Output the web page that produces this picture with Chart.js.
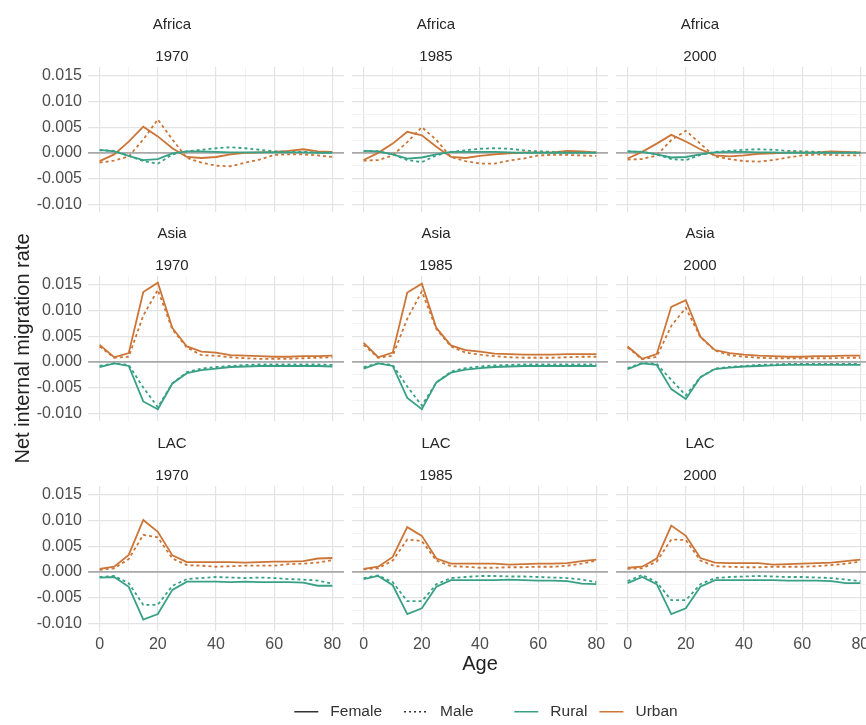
<!DOCTYPE html>
<html lang="en">
<head>
<meta charset="UTF-8">
<meta name="viewport" content="width=device-width, initial-scale=1.0">
<title>Net internal migration rate by age</title>
<script src="https://cdn.jsdelivr.net/npm/chart.js"></script>
<style>
    html, body {
      margin: 0;
      padding: 0;
      background: #fff;
    }
    #page {
      position: relative;
      width: 866px;
      height: 725px;
      overflow: hidden;
    }
    #page canvas {
      position: absolute;
    }
</style>
</head>
<body>
<div id="page"></div>

<script>
    // Facets and axes
    const regions = ['Africa', 'Asia', 'LAC'];
    const years = ['1970', '1985', '2000'];
    const ages = [0, 5, 10, 15, 20, 25, 30, 35, 40, 45, 50, 55, 60, 65, 70, 75, 80];
    const xMajor = [0, 20, 40, 60, 80];
    const xMinor = [10, 30, 50, 70];
    const yMajor = [-0.010, -0.005, 0, 0.005, 0.010, 0.015];
    const yMinor = [-0.0075, -0.0025, 0.0025, 0.0075, 0.0125];

    // Africa
    const afr70_urbF = [-0.0016, -0.0003, 0.0022, 0.0051, 0.0032, 0.0009, -0.0008, -0.0010, -0.0008, -0.0003, 0.0000, 0.0001, 0.0002, 0.0004, 0.0007, 0.0003, 0.0002];
    const afr70_urbM = [-0.0019, -0.0015, -0.0007, 0.0026, 0.0065, 0.0026, -0.0010, -0.0019, -0.0025, -0.0026, -0.0019, -0.0013, -0.0004, -0.0003, -0.0003, -0.0005, -0.0008];
    const afr70_rurF = [0.0006, 0.0003, -0.0006, -0.0014, -0.0012, -0.0001, 0.0003, 0.0003, 0.0002, 0.0001, 0.0001, 0.0001, 0.0001, 0.0001, 0.0001, 0.0000, 0.0000];
    const afr70_rurM = [0.0005, 0.0004, -0.0006, -0.0016, -0.0021, -0.0003, 0.0003, 0.0006, 0.0009, 0.0011, 0.0009, 0.0006, 0.0003, 0.0002, 0.0002, 0.0001, 0.0001];

    const afr85_urbF = [-0.0014, 0.0000, 0.0018, 0.0041, 0.0034, 0.0012, -0.0008, -0.0010, -0.0006, -0.0003, -0.0001, 0.0001, 0.0001, 0.0001, 0.0004, 0.0003, 0.0001];
    const afr85_urbM = [-0.0015, -0.0014, -0.0005, 0.0021, 0.0050, 0.0025, -0.0008, -0.0016, -0.0021, -0.0021, -0.0015, -0.0011, -0.0005, -0.0004, -0.0004, -0.0005, -0.0006];
    const afr85_rurF = [0.0004, 0.0003, -0.0003, -0.0011, -0.0009, -0.0003, 0.0002, 0.0002, 0.0002, 0.0002, 0.0001, 0.0000, 0.0000, 0.0000, 0.0000, 0.0000, 0.0000];
    const afr85_rurM = [0.0004, 0.0003, -0.0003, -0.0014, -0.0018, -0.0005, 0.0002, 0.0005, 0.0008, 0.0009, 0.0008, 0.0005, 0.0003, 0.0002, 0.0001, 0.0001, 0.0001];

    const afr00_urbF = [-0.0011, 0.0002, 0.0018, 0.0035, 0.0022, 0.0007, -0.0005, -0.0007, -0.0005, -0.0002, -0.0001, 0.0001, 0.0001, 0.0001, 0.0003, 0.0002, 0.0001];
    const afr00_urbM = [-0.0013, -0.0012, -0.0005, 0.0025, 0.0043, 0.0018, -0.0007, -0.0012, -0.0016, -0.0017, -0.0014, -0.0009, -0.0005, -0.0003, -0.0004, -0.0005, -0.0005];
    const afr00_rurF = [0.0003, 0.0002, -0.0003, -0.0009, -0.0008, -0.0003, 0.0001, 0.0002, 0.0002, 0.0001, 0.0001, 0.0000, 0.0000, 0.0000, 0.0000, 0.0000, 0.0000];
    const afr00_rurM = [0.0003, 0.0002, -0.0003, -0.0012, -0.0014, -0.0004, 0.0002, 0.0004, 0.0006, 0.0007, 0.0006, 0.0004, 0.0003, 0.0002, 0.0001, 0.0001, 0.0001];

    // Asia
    const asia70_urbF = [0.0033, 0.0009, 0.0017, 0.0136, 0.0154, 0.0066, 0.0030, 0.0020, 0.0018, 0.0013, 0.0012, 0.0011, 0.0010, 0.0010, 0.0011, 0.0011, 0.0012];
    const asia70_urbM = [0.0030, 0.0008, 0.0010, 0.0090, 0.0140, 0.0063, 0.0028, 0.0013, 0.0012, 0.0009, 0.0007, 0.0006, 0.0006, 0.0006, 0.0007, 0.0008, 0.0009];
    const asia70_rurF = [-0.0010, -0.0003, -0.0008, -0.0077, -0.0092, -0.0042, -0.0022, -0.0016, -0.0013, -0.0010, -0.0009, -0.0008, -0.0008, -0.0008, -0.0008, -0.0008, -0.0009];
    const asia70_rurM = [-0.0008, -0.0003, -0.0006, -0.0050, -0.0088, -0.0042, -0.0020, -0.0013, -0.0010, -0.0008, -0.0006, -0.0005, -0.0005, -0.0005, -0.0005, -0.0005, -0.0006];

    const asia85_urbF = [0.0037, 0.0009, 0.0018, 0.0135, 0.0152, 0.0066, 0.0032, 0.0023, 0.0020, 0.0016, 0.0015, 0.0014, 0.0014, 0.0014, 0.0015, 0.0015, 0.0015];
    const asia85_urbM = [0.0033, 0.0008, 0.0012, 0.0084, 0.0137, 0.0064, 0.0030, 0.0018, 0.0014, 0.0011, 0.0009, 0.0008, 0.0008, 0.0008, 0.0009, 0.0010, 0.0010];
    const asia85_rurF = [-0.0013, -0.0003, -0.0008, -0.0070, -0.0092, -0.0040, -0.0021, -0.0015, -0.0012, -0.0010, -0.0009, -0.0008, -0.0008, -0.0008, -0.0008, -0.0008, -0.0008];
    const asia85_rurM = [-0.0010, -0.0003, -0.0006, -0.0048, -0.0085, -0.0040, -0.0019, -0.0012, -0.0009, -0.0007, -0.0006, -0.0005, -0.0005, -0.0005, -0.0005, -0.0005, -0.0005];

    const asia00_urbF = [0.0030, 0.0006, 0.0015, 0.0107, 0.0120, 0.0049, 0.0023, 0.0017, 0.0014, 0.0012, 0.0011, 0.0010, 0.0010, 0.0011, 0.0011, 0.0012, 0.0012];
    const asia00_urbM = [0.0028, 0.0005, 0.0010, 0.0070, 0.0105, 0.0048, 0.0022, 0.0013, 0.0010, 0.0008, 0.0007, 0.0007, 0.0007, 0.0007, 0.0007, 0.0008, 0.0008];
    const asia00_rurF = [-0.0014, -0.0003, -0.0006, -0.0053, -0.0072, -0.0030, -0.0014, -0.0011, -0.0009, -0.0008, -0.0007, -0.0006, -0.0006, -0.0006, -0.0006, -0.0006, -0.0006];
    const asia00_rurM = [-0.0012, -0.0002, -0.0004, -0.0035, -0.0065, -0.0030, -0.0013, -0.0010, -0.0008, -0.0006, -0.0005, -0.0004, -0.0004, -0.0004, -0.0004, -0.0004, -0.0004];

    // Latin America and the Caribbean
    const lac70_urbF = [0.0006, 0.0010, 0.0033, 0.0101, 0.0078, 0.0032, 0.0019, 0.0019, 0.0019, 0.0019, 0.0018, 0.0019, 0.0020, 0.0020, 0.0021, 0.0026, 0.0027];
    const lac70_urbM = [0.0004, 0.0007, 0.0025, 0.0072, 0.0067, 0.0026, 0.0013, 0.0012, 0.0010, 0.0011, 0.0012, 0.0012, 0.0012, 0.0015, 0.0016, 0.0018, 0.0023];
    const lac70_rurF = [-0.0011, -0.0010, -0.0029, -0.0093, -0.0082, -0.0035, -0.0019, -0.0019, -0.0019, -0.0020, -0.0019, -0.0020, -0.0020, -0.0020, -0.0021, -0.0027, -0.0027];
    const lac70_rurM = [-0.0010, -0.0008, -0.0022, -0.0064, -0.0064, -0.0027, -0.0014, -0.0012, -0.0010, -0.0011, -0.0012, -0.0011, -0.0012, -0.0014, -0.0015, -0.0017, -0.0023];

    const lac85_urbF = [0.0006, 0.0010, 0.0029, 0.0087, 0.0070, 0.0026, 0.0016, 0.0016, 0.0016, 0.0016, 0.0014, 0.0015, 0.0016, 0.0016, 0.0017, 0.0021, 0.0024];
    const lac85_urbM = [0.0005, 0.0007, 0.0022, 0.0063, 0.0060, 0.0022, 0.0011, 0.0010, 0.0008, 0.0008, 0.0009, 0.0009, 0.0010, 0.0010, 0.0012, 0.0016, 0.0022];
    const lac85_rurF = [-0.0014, -0.0008, -0.0026, -0.0082, -0.0071, -0.0029, -0.0016, -0.0016, -0.0016, -0.0016, -0.0015, -0.0016, -0.0017, -0.0017, -0.0018, -0.0023, -0.0024];
    const lac85_rurM = [-0.0012, -0.0007, -0.0020, -0.0057, -0.0057, -0.0024, -0.0012, -0.0010, -0.0008, -0.0008, -0.0009, -0.0009, -0.0010, -0.0011, -0.0012, -0.0015, -0.0020];

    const lac00_urbF = [0.0008, 0.0010, 0.0026, 0.0090, 0.0070, 0.0027, 0.0018, 0.0017, 0.0017, 0.0017, 0.0014, 0.0015, 0.0016, 0.0017, 0.0018, 0.0021, 0.0024];
    const lac00_urbM = [0.0006, 0.0007, 0.0020, 0.0063, 0.0062, 0.0022, 0.0011, 0.0010, 0.0009, 0.0009, 0.0010, 0.0010, 0.0010, 0.0011, 0.0013, 0.0016, 0.0020];
    const lac00_rurF = [-0.0022, -0.0010, -0.0024, -0.0082, -0.0071, -0.0029, -0.0016, -0.0016, -0.0016, -0.0016, -0.0016, -0.0017, -0.0017, -0.0017, -0.0018, -0.0022, -0.0022];
    const lac00_rurM = [-0.0018, -0.0006, -0.0020, -0.0055, -0.0055, -0.0024, -0.0012, -0.0010, -0.0009, -0.0008, -0.0009, -0.0010, -0.0010, -0.0011, -0.0012, -0.0015, -0.0018];

    // panel lookup: [rural female, rural male, urban female, urban male]
    const panels = {
      Africa: { 1970: [afr70_rurF, afr70_rurM, afr70_urbF, afr70_urbM],
                1985: [afr85_rurF, afr85_rurM, afr85_urbF, afr85_urbM],
                2000: [afr00_rurF, afr00_rurM, afr00_urbF, afr00_urbM] },
      Asia:   { 1970: [asia70_rurF, asia70_rurM, asia70_urbF, asia70_urbM],
                1985: [asia85_rurF, asia85_rurM, asia85_urbF, asia85_urbM],
                2000: [asia00_rurF, asia00_rurM, asia00_urbF, asia00_urbM] },
      LAC:    { 1970: [lac70_rurF, lac70_rurM, lac70_urbF, lac70_urbM],
                1985: [lac85_rurF, lac85_rurM, lac85_urbF, lac85_urbM],
                2000: [lac00_rurF, lac00_rurM, lac00_urbF, lac00_urbM] }
    };

    const RURAL = '#38a185';
    const URBAN = '#cc7536';
    const lineStyles = [
      { color: RURAL, dash: [] },
      { color: RURAL, dash: [3, 3] },
      { color: URBAN, dash: [] },
      { color: URBAN, dash: [3, 3] }
    ];

    // layout in page pixels
    const chartTops = [67, 276, 486];
    const colLefts = [88, 352, 616];
    const plotW = 256, plotH = 145, padX = 88, headH = 58, axisH = 48;

    Chart.defaults.font.family = '"Liberation Sans", Arial, sans-serif';
    const page = document.getElementById('page');
    const tickFont = { size: 16 };
    const tickColor = '#4d4d4d';
    const majorGrid = '#e3e3e3';
    const minorGrid = '#f0f0f0';

    // grey reference line at zero
    const zeroLine = {
      id: 'zeroLine',
      beforeDatasetsDraw(chart) {
        const { ctx, chartArea, scales } = chart;
        const py = scales.y.getPixelForValue(0);
        ctx.save();
        ctx.strokeStyle = '#a9a9a9';
        ctx.lineWidth = 1.6;
        ctx.beginPath();
        ctx.moveTo(chartArea.left, py);
        ctx.lineTo(chartArea.right, py);
        ctx.stroke();
        ctx.restore();
      }
    };

    const makePanel = (r, c) => {
      const region = regions[r];
      const year = years[c];
      const cv = document.createElement('canvas');
      cv.width = padX * 2 + plotW;
      cv.height = headH + plotH + axisH;
      cv.style.left = (colLefts[c] - padX) + 'px';
      cv.style.top = (chartTops[r] - headH) + 'px';
      page.appendChild(cv);

      const datasets = panels[region][year].map((vals, i) => ({
        data: ages.map((a, k) => ({ x: a, y: vals[k] })),
        borderColor: lineStyles[i].color,
        borderDash: lineStyles[i].dash,
        borderWidth: 1.8,
        pointRadius: 0,
        tension: 0,
        fill: false
      }));

      new Chart(cv, {
        type: 'line',
        data: { datasets },
        options: {
          responsive: false,
          animation: false,
          events: [],
          layout: { padding: { left: 0, right: padX, top: 0, bottom: 0 } },
          plugins: {
            legend: { display: false },
            tooltip: { enabled: false },
            title: { display: true, text: region, color: '#262626', font: { size: 15, weight: 'normal' }, padding: { top: 7, bottom: 5 } },
            subtitle: { display: true, text: year, color: '#262626', font: { size: 15 }, padding: { top: 9, bottom: 1 } }
          },
          scales: {
            x: {
              type: 'linear',
              min: -4,
              max: 84,
              afterBuildTicks: s => { s.ticks = [...xMajor, ...xMinor].sort((a, b) => a - b).map(v => ({ value: v })); },
              afterFit: s => { s.height = axisH; },
              ticks: {
                display: r === 2, autoSkip: false, maxRotation: 0, padding: 4,
                color: tickColor, font: tickFont,
                callback: v => xMajor.includes(v) ? String(v) : ''
              },
              grid: {
                drawTicks: false,
                color: ctx => xMinor.includes(ctx.tick.value) ? minorGrid : majorGrid,
                lineWidth: ctx => xMinor.includes(ctx.tick.value) ? 0.8 : 1.2
              },
              border: { display: false },
              title: { display: r === 2 && c === 1, text: 'Age', color: '#222', font: { size: 20 }, padding: { top: 0, bottom: 3 } }
            },
            y: {
              min: -0.0115,
              max: 0.0167,
              afterBuildTicks: s => { s.ticks = [...yMajor, ...yMinor].sort((a, b) => a - b).map(v => ({ value: v })); },
              afterFit: s => { s.width = padX; },
              ticks: {
                display: c === 0, padding: 6,
                color: tickColor, font: tickFont,
                callback: v => yMajor.includes(v) ? v.toFixed(3) : ''
              },
              grid: {
                drawTicks: false,
                color: ctx => yMinor.includes(ctx.tick.value) ? minorGrid : majorGrid,
                lineWidth: ctx => yMinor.includes(ctx.tick.value) ? 0.8 : 1.2
              },
              border: { display: false },
              title: { display: r === 1 && c === 0, text: 'Net internal migration rate', color: '#222', font: { size: 20 }, padding: { top: 11, bottom: 0 } }
            }
          }
        },
        plugins: [zeroLine]
      });
    };

    for (let r = 0; r < regions.length; r++) {
      for (let c = 0; c < years.length; c++) {
        makePanel(r, c);
      }
    }

    // legends: line type and colour
    const legendTypes = ['Female', 'Male'];
    const legendAreas = ['Rural', 'Urban'];

    const makeLegend = (left, top, width, items, pad) => {
      const cv = document.createElement('canvas');
      cv.width = width;
      cv.height = 130;
      cv.style.left = left + 'px';
      cv.style.top = top + 'px';
      page.appendChild(cv);
      new Chart(cv, {
        type: 'line',
        data: {
          datasets: items.map(it => ({ label: ' ' + it.label, data: [], borderColor: it.color, borderDash: it.dash, borderWidth: 1.6 }))
        },
        options: {
          responsive: false,
          animation: false,
          events: [],
          scales: { x: { display: false }, y: { display: false } },
          plugins: {
            tooltip: { enabled: false },
            legend: {
              display: true,
              position: 'top',
              labels: {
                usePointStyle: true, pointStyle: 'line', pointStyleWidth: 24, padding: pad,
                color: '#333', font: { size: 15.5 },
                // point styles carry no dash, so copy it from the dataset
                generateLabels: chart => Chart.defaults.plugins.legend.labels.generateLabels(chart).map((item, i) => ({
                  ...item,
                  lineDash: chart.data.datasets[i].borderDash,
                  strokeStyle: chart.data.datasets[i].borderColor,
                  lineWidth: 1.6
                }))
              }
            }
          }
        }
      });
    };

    makeLegend(254, 682, 260, [
      { label: legendTypes[0], color: '#333', dash: [] },
      { label: legendTypes[1], color: '#333', dash: [2, 3] }
    ], 22);
    makeLegend(486, 692, 220, [
      { label: legendAreas[0], color: RURAL, dash: [] },
      { label: legendAreas[1], color: URBAN, dash: [] }
    ], 12);
</script>
</body>
</html>
